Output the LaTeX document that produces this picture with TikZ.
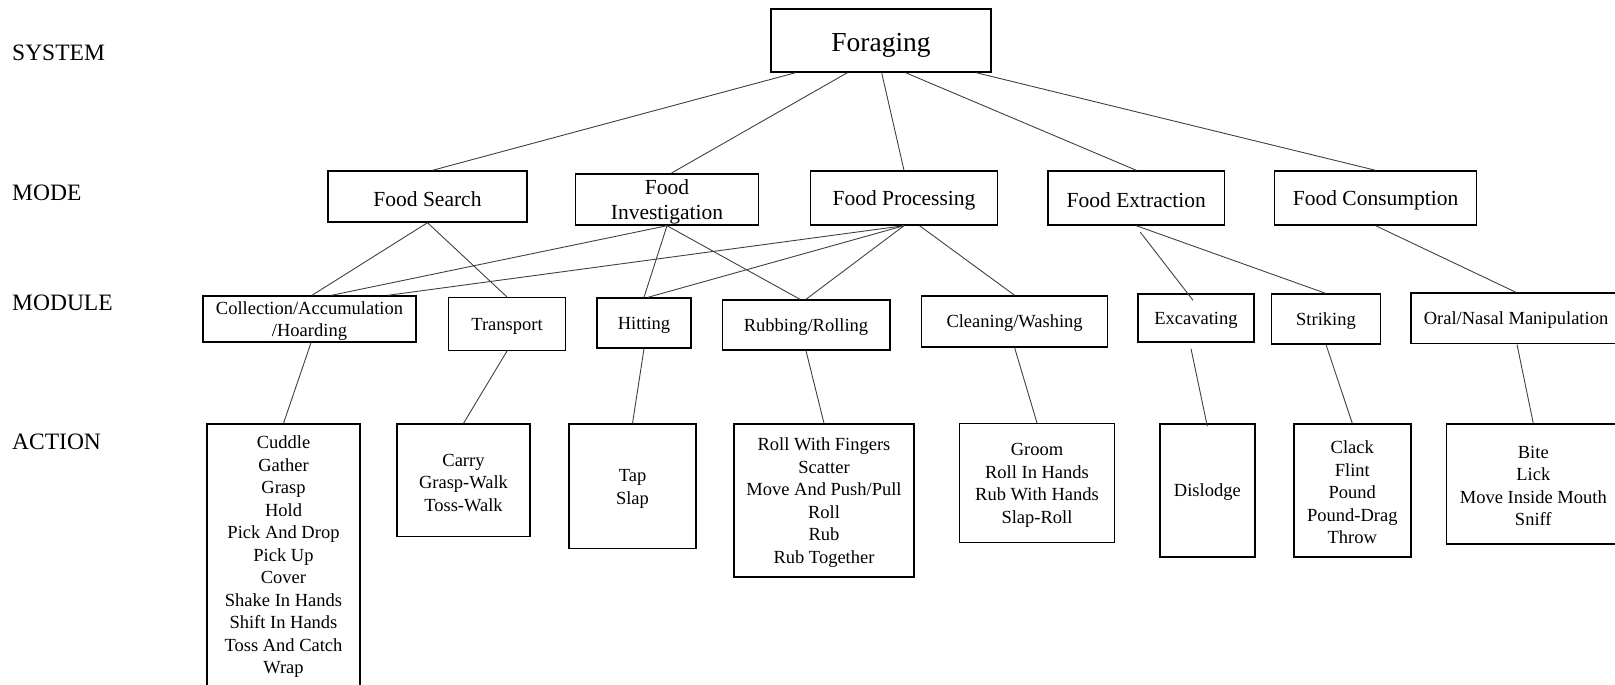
\documentclass[tikz,border=0pt]{standalone}
\usepackage{fontspec}
\setmainfont{Liberation Serif}
\usetikzlibrary{calc}

\newcommand\lift{\rule{0pt}{0.9em}}

\tikzset{
  box/.style={draw, line width=1.4pt, align=center, inner sep=0pt,
    execute at begin node={\lift}},
  topbox/.style={box, font=\fontsize{27.5}{32}\selectfont,
    execute at begin node={\rule{0pt}{1.05em}}},
  modebox/.style={box, font=\fontsize{21.5}{25.5}\selectfont},
  modbox/.style={box, font=\fontsize{18.5}{22.5}\selectfont},
  link/.style={draw=black!75, line width=0.9pt},
  lvl/.style={anchor=west, inner sep=0pt, font=\fontsize{23.5}{28}\selectfont}
}

\begin{document}
\begin{tikzpicture}[x=100pt, y=-100pt]
  \useasboundingbox (0,0) rectangle (16.15,6.85);

  \node[lvl] (lsys) at (0.12,0.53) {SYSTEM};
  \node[lvl] (lmode) at (0.12,1.93) {MODE};
  \node[lvl] (lmodule) at (0.12,3.03) {MODULE};
  \node[lvl] (laction) at (0.12,4.42) {ACTION};

  \node[topbox, minimum width=220pt, minimum height=63pt] (forage) at (8.81,0.405) {Foraging};

  \node[modebox, minimum width=199pt, minimum height=51pt] (search) at (4.275,1.965) {Food Search};
  \node[modebox, minimum width=183.5pt, minimum height=51pt] (invest) at (6.67,1.995) {\lift Food\\Investigation};
  \node[modebox, minimum width=187pt, minimum height=54pt] (proc) at (9.04,1.98) {Food Processing};
  \node[modebox, minimum width=176.6pt, minimum height=54pt] (extr) at (11.363,1.98) {Food Extraction};
  \node[modebox, minimum width=202pt, minimum height=54pt] (cons) at (13.756,1.98) {Food Consumption};

  \node[modbox, minimum width=213pt, minimum height=46pt] (coll) at (3.095,3.19) {\lift Collection/Accumulation\\/Hoarding};
  \node[modbox, minimum width=117.5pt, minimum height=52.7pt] (trans) at (5.07,3.24) {Transport};
  \node[modbox, minimum width=94pt, minimum height=50pt] (hit) at (6.44,3.23) {Hitting};
  \node[modbox, minimum width=167.6pt, minimum height=50pt] (rub) at (8.06,3.25) {Rubbing/Rolling};
  \node[modbox, minimum width=186pt, minimum height=51pt] (clean) at (10.146,3.215) {Cleaning/Washing};
  \node[modbox, minimum width=116pt, minimum height=48pt] (exc) at (11.96,3.18) {Excavating};
  \node[modbox, minimum width=108.6pt, minimum height=49.7pt] (strk) at (13.26,3.19) {Striking};
  \node[modbox, minimum width=210pt, minimum height=50.7pt] (oral) at (15.16,3.184) {Oral/Nasal Manipulation};

  \node[modbox, minimum width=153pt, minimum height=262pt] (cud) at (2.835,5.55)
    {\lift Cuddle\\Gather\\Grasp\\Hold\\Pick And Drop\\Pick Up\\Cover\\Shake In Hands\\Shift In Hands\\Toss And Catch\\Wrap};
  \node[modbox, minimum width=133pt, minimum height=112.7pt] (carry) at (4.635,4.804) {\lift Carry\\Grasp-Walk\\Toss-Walk};
  \node[modbox, minimum width=127pt, minimum height=124.7pt] (tap) at (6.325,4.864) {\lift Tap\\Slap};
  \node[modbox, minimum width=180pt, minimum height=153pt] (roll) at (8.24,5.005)
    {\lift Roll With Fingers\\Scatter\\Move And Push/Pull\\Roll\\Rub\\Rub Together};
  \node[modbox, minimum width=154.8pt, minimum height=119pt] (groom) at (10.37,4.832)
    {\lift Groom\\Roll In Hands\\Rub With Hands\\Slap-Roll};
  \node[modbox, minimum width=95pt, minimum height=133pt] (disl) at (12.073,4.905) {Dislodge};
  \node[modbox, minimum width=117pt, minimum height=133pt] (clack) at (13.523,4.905)
    {\lift Clack\\Flint\\Pound\\Pound-Drag\\Throw};
  \node[modbox, minimum width=173.4pt, minimum height=119.7pt] (bite) at (15.333,4.84)
    {\lift Bite\\Lick\\Move Inside Mouth\\Sniff};

  \draw[link] ($(forage.south west)!0.114!(forage.south east)$) -- ([xshift=5pt]search.north);
  \draw[link] ($(forage.south west)!0.348!(forage.south east)$) -- ([xshift=4pt]invest.north);
  \draw[link] ($(forage.south west)!0.503!(forage.south east)$) -- (proc.north);
  \draw[link] ($(forage.south west)!0.611!(forage.south east)$) -- (extr.north);
  \draw[link] ($(forage.south west)!0.93!(forage.south east)$) -- (cons.north);

  \draw[link] (search.south) -- ([xshift=2.5pt]coll.north);
  \draw[link] (search.south) -- (trans.north);
  \draw[link] (invest.south) -- ([xshift=22pt]coll.north);
  \draw[link] (invest.south) -- (hit.north);
  \draw[link] (invest.south) -- ([xshift=-6pt]rub.north);
  \draw[link] (proc.south) -- ([xshift=78.5pt]coll.north);
  \draw[link] (proc.south) -- ([xshift=4pt]hit.north);
  \draw[link] (proc.south) -- (rub.north);
  \draw[link] ([xshift=15.5pt]proc.south) -- (clean.north);
  \draw[link] ([xshift=4pt,yshift=-6.5pt]extr.south) -- ([xshift=-3pt,yshift=-7pt]exc.north);
  \draw[link] (extr.south) -- (strk.north);
  \draw[link] (cons.south) -- (oral.north);

  \draw[link] ([xshift=1.5pt]coll.south) -- (cud.north);
  \draw[link] (trans.south) -- (carry.north);
  \draw[link] (hit.south) -- (tap.north);
  \draw[link] (rub.south) -- (roll.north);
  \draw[link] (clean.south) -- (groom.north);
  \draw[link] ([xshift=-5pt,yshift=-6pt]exc.south) -- ([yshift=-3pt]disl.north);
  \draw[link] (strk.south) -- (clack.north);
  \draw[link] ([xshift=1pt]oral.south) -- (bite.north);
\end{tikzpicture}
\end{document}
